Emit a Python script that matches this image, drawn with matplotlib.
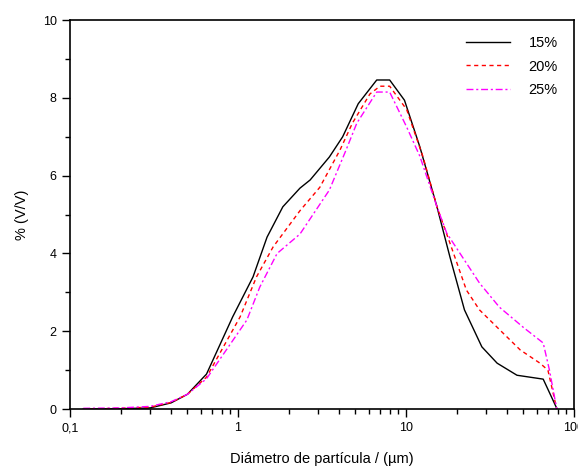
import numpy as np
from matplotlib import pyplot as plt
from matplotlib.ticker import FixedLocator, FuncFormatter, LogLocator, NullFormatter, MultipleLocator

plt.rcParams['font.family'] = ['Liberation Sans', 'DejaVu Sans']

# particle size distribution (% V/V)
d_15 = [0.12, 0.2, 0.3, 0.4, 0.5, 0.65, 0.93, 1.23, 1.49, 1.85, 2.34, 2.69, 3.5, 4.2, 5.2,
        6.7, 8.0, 9.8, 12.1, 15.3, 18.3, 22.3, 28.3, 34.9, 45.8, 65.6, 79]
v_15 = [0.0, 0.01, 0.03, 0.16, 0.38, 0.9, 2.37, 3.4, 4.42, 5.2, 5.68, 5.89, 6.48, 7.0, 7.85,
        8.46, 8.46, 7.94, 6.74, 5.2, 3.9, 2.55, 1.6, 1.18, 0.87, 0.77, 0.02]

d_20 = [0.12, 0.2, 0.3, 0.4, 0.5, 0.65, 1.03, 1.29, 1.62, 2.34, 3.07, 4.05, 4.8, 6.1,
        7.0, 8.0, 10.1, 12.6, 15.3, 18.3, 22.9, 27.4, 36.3, 47.9, 62.8, 70, 79]
v_20 = [0.0, 0.02, 0.05, 0.17, 0.38, 0.82, 2.37, 3.4, 4.17, 5.1, 5.7, 6.66, 7.35, 8.1,
        8.3, 8.3, 7.7, 6.5, 5.2, 4.26, 3.06, 2.55, 2.03, 1.52, 1.18, 1.0, 0.0]

d_25 = [0.12, 0.2, 0.3, 0.4, 0.5, 0.65, 1.13, 1.35, 1.71, 2.34, 3.5, 4.4, 5.1, 6.7,
        8.0, 10.1, 12.1, 15.3, 17.5, 21, 27.4, 36, 50, 65.6, 71.5, 79]
v_25 = [0.02, 0.03, 0.07, 0.19, 0.38, 0.78, 2.29, 3.14, 4.0, 4.5, 5.63, 6.66, 7.35, 8.15,
        8.15, 7.25, 6.5, 5.2, 4.52, 4.0, 3.24, 2.62, 2.1, 1.7, 1.0, 0.0]

labels = ["15%", "20%", "25%"]

fig = plt.figure(figsize=(5.78, 4.67), dpi=100)
ax = fig.add_axes([0.121, 0.124, 0.872, 0.833])

ax.plot(d_15, v_15, color='black', lw=1.0, ls='-', label=labels[0])
ax.plot(d_20, v_20, color='#ff0000', lw=1.0, ls=(0, (3, 2.5)), label=labels[1])
ax.plot(d_25, v_25, color='#ff00ff', lw=1.0, ls=(0, (5, 2, 1.5, 2)), label=labels[2])

ax.set_xscale('log')
ax.set_xlim(0.1, 100)
ax.set_ylim(0, 10)

ax.xaxis.set_major_locator(FixedLocator([0.1, 1, 10, 100]))
ax.xaxis.set_major_formatter(FuncFormatter(lambda v, p: {0.1: "0,1", 1: "1", 10: "10", 100: "100"}.get(round(v, 3), "")))
ax.xaxis.set_minor_locator(LogLocator(base=10, subs=np.arange(2, 10)))
ax.xaxis.set_minor_formatter(NullFormatter())
ax.yaxis.set_major_locator(MultipleLocator(2))
ax.yaxis.set_minor_locator(MultipleLocator(1))

ax.tick_params(which='major', direction='out', length=6, width=1, labelsize=9, colors='black')
ax.tick_params(which='minor', direction='out', length=3.5, width=1)
for s in ax.spines.values():
    s.set_linewidth(1.2)

ax.set_xlabel("Diámetro de partícula / (µm)", fontsize=10.5, labelpad=13)
ax.set_ylabel("% (V/V)", fontsize=10.5, labelpad=10)

leg = ax.legend(loc='upper right', frameon=False, fontsize=10.5, handlelength=3.0,
                handletextpad=1.3, labelspacing=0.65, borderaxespad=0.7)

fig.savefig("out.png", dpi=100)
